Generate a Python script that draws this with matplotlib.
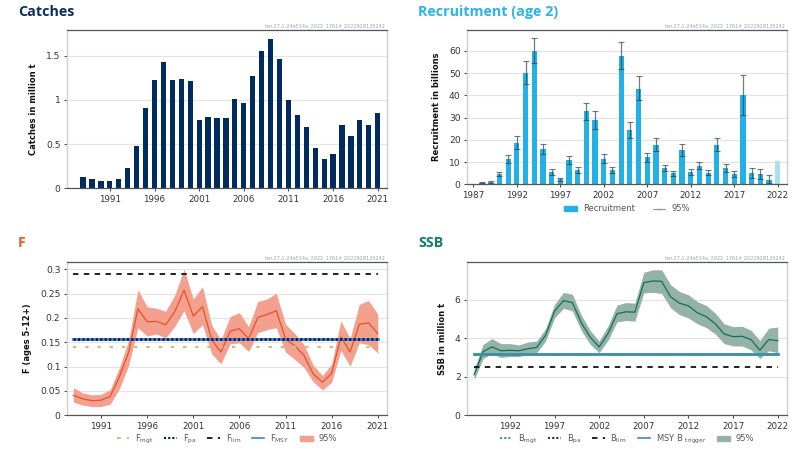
import matplotlib
matplotlib.use('Agg')
import matplotlib.pyplot as plt
from matplotlib.lines import Line2D
from matplotlib.patches import Patch
import numpy as np

plt.rcParams['font.family'] = ['DejaVu Sans']
plt.rcParams['mathtext.default'] = 'regular'

W, H = 803, 454
stamp = 'her.27.1-24a514a_2022_17614_2022928135242'

catch_years = np.arange(1988, 2022)
catches = [.13, .105, .085, .085, .105, .23, .48, .91, 1.22, 1.43, 1.225, 1.24, 1.21, .77, .81, .79, .795,
           1.005, .97, 1.27, 1.55, 1.69, 1.46, .995, .825, .69, .46, .33, .385, .72, .595, .775, .72, .85]

rec_years = np.arange(1988, 2023)
recruitment = [.8, 1.2, 4.5, 11.5, 18.5, 50, 60, 15.8, 5.6, 2.2, 10.8, 6.3, 32.8, 28.8, 11.3, 6.6, 57.7, 24.5,
               43, 12.2, 17.8, 7.2, 5, 15.3, 5.6, 8.2, 5.2, 17.7, 7.2, 4.5, 40, 5.1, 4.6, 1.8, 10.6]
rec_hi = [1.2, 1.7, 5.4, 13.4, 21.5, 55.4, 65.8, 18.2, 7, 3, 12.7, 7.9, 36.5, 32.8, 13.5, 8, 63.8, 27.9,
          48.5, 14.3, 20.6, 8.5, 6.2, 18, 7, 9.9, 6.6, 21, 9.3, 5.8, 49, 7.4, 6.7, 4]
rec_lo = [.4, .8, 3.6, 9.7, 15.8, 45, 54.5, 13.5, 4.4, 1.5, 9, 5, 28.8, 25, 9.4, 5, 51.7, 21,
          38, 10, 14.8, 5.8, 3.8, 12.8, 4.4, 6.8, 4, 14.8, 5.4, 3.2, 31, 2.9, 2.6, .5]

f_years = np.arange(1988, 2022)
f_val = [.041, .034, .030, .031, .039, .08, .13, .219, .192, .193, .186, .213, .257, .204, .223, .155, .130,
         .173, .178, .157, .201, .207, .215, .157, .143, .123, .085, .068, .086, .161, .130, .187, .190, .168]
f_hi = [.057, .046, .042, .043, .053, .098, .155, .258, .223, .220, .214, .247, .3, .239, .264, .185, .155,
        .203, .211, .182, .234, .239, .251, .187, .168, .145, .103, .082, .105, .194, .158, .228, .236, .208]
f_lo = [.027, .021, .018, .018, .023, .055, .103, .18, .163, .167, .159, .183, .215, .168, .186, .126, .106,
        .147, .149, .131, .170, .176, .18, .130, .115, .098, .069, .052, .068, .133, .101, .149, .145, .128]
f_mgt, f_pa, f_lim, f_msy = .14, .157, .291, .157

ssb_years = np.arange(1988, 2023)
ssb_val = [2.1, 3.3, 3.55, 3.35, 3.37, 3.35, 3.45, 3.52, 4.15, 5.4, 5.95, 5.85, 4.8, 4.05, 3.55, 4.25, 5.27, 5.37,
           5.35, 6.88, 6.97, 6.95, 6.15, 5.82, 5.68, 5.32, 5.12, 4.75, 4.22, 4.08, 4.1, 3.93, 3.38, 3.93, 3.87]
ssb_hi = [2.4, 3.68, 3.98, 3.72, 3.72, 3.65, 3.8, 3.85, 4.5, 5.75, 6.38, 6.28, 5.2, 4.4, 3.85, 4.65, 5.72, 5.85,
          5.82, 7.42, 7.55, 7.55, 6.78, 6.42, 6.25, 5.9, 5.7, 5.3, 4.75, 4.6, 4.62, 4.42, 3.88, 4.52, 4.58]
ssb_lo = [1.85, 2.95, 3.2, 3.0, 3.05, 3.05, 3.15, 3.25, 3.85, 5.05, 5.55, 5.42, 4.4, 3.68, 3.25, 3.9, 4.85, 4.92,
          4.88, 6.35, 6.38, 6.32, 5.58, 5.22, 5.05, 4.75, 4.55, 4.22, 3.72, 3.6, 3.6, 3.4, 2.95, 3.35, 3.25]
b_mgt, b_pa, b_lim, msy_btrigger = 3.17, 3.17, 2.5, 3.17


def panel(left, top, right, bottom, xlim, ylim, xticks, yticks, ylabels, ylabel, title, color, title_y):
    ax = fig.add_axes([left / W, 1 - bottom / H, (right - left) / W, (bottom - top) / H])
    ax.set_xlim(xlim)
    ax.set_ylim(ylim)
    ax.set_xticks(xticks)
    ax.set_yticks(yticks)
    ax.set_yticklabels(ylabels)
    ax.grid(axis='y', color='#e4e4e4', lw=0.9)
    ax.set_axisbelow(True)
    ax.tick_params(axis='x', length=2.5, width=0.7, pad=2, labelsize=6.3, color='#444444', labelcolor='#333333')
    ax.tick_params(axis='y', length=2.5, width=0.7, pad=2, labelsize=6.6, color='#444444', labelcolor='#333333')
    for s in ['top', 'bottom']:
        ax.spines[s].set_color('#555555')
        ax.spines[s].set_linewidth(0.9)
    for s in ['left', 'right']:
        ax.spines[s].set_color('#cfcfcf')
        ax.spines[s].set_linewidth(1.0)
    ax.set_ylabel(ylabel, fontsize=6, fontweight='bold', color='#111111', labelpad=6)
    fig.text((left - 49) / W, 1 - title_y / H, title, fontsize=10.3, fontweight='bold', color=color,
             family='Open Sans', va='center')
    fig.text((right - 2) / W, 1 - (top - 4) / H, stamp, fontsize=3.6, color='#9aa5b5', ha='right', va='center')
    return ax


def legend(ax, handles, labels, y, spacing=1.6):
    ax.legend(handles, labels, loc='center', bbox_to_anchor=(0.5, y), ncols=len(labels), frameon=False,
              fontsize=6, labelcolor='#555555', handlelength=1.5, columnspacing=spacing, handletextpad=0.7)


fig = plt.figure(figsize=(W / 100, H / 100), dpi=100)

ax = panel(67, 30, 387, 188.3, (1986.2, 2022.04), (0, 1.79), range(1991, 2022, 5), [0, .5, 1, 1.5],
           ['0', '0.5', '1', '1.5'], 'Catches in million t', 'Catches', '#0b2f5e', 12)
ax.bar(catch_years, catches, width=0.58, color='#002b5e')

ax = panel(467, 30, 787, 184.3, (1986.27, 2023.07), (0, 69.4), range(1987, 2023, 5), range(0, 61, 10),
           [str(v) for v in range(0, 61, 10)], 'Recruitment in billions', 'Recruitment (age 2)', '#29b5e8', 12)
ax.bar(rec_years[:-1], recruitment[:-1], width=0.6, color='#22b0e6')
ax.bar(rec_years[-1], recruitment[-1], width=0.6, color='#a5e0f7')
ax.errorbar(rec_years[:-1], recruitment[:-1],
            yerr=[np.array(recruitment[:-1]) - np.array(rec_lo), np.array(rec_hi) - np.array(recruitment[:-1])],
            fmt='none', ecolor='#2f4448', alpha=0.7, elinewidth=0.9, capsize=2, capthick=0.8)
legend(ax, [Patch(color='#22b0e6'), Line2D([], [], color='#999999', lw=0.8, marker='_', ms=4)],
       ['Recruitment', '95%'], -0.16, 2.2)

ax = panel(66.7, 261.7, 387, 415.3, (1987.28, 2022.0), (0, .3156), range(1991, 2022, 5),
           [0, .05, .1, .15, .2, .25, .3], ['0', '0.05', '0.1', '0.15', '0.2', '0.25', '0.3'],
           'F (ages 5-12+)', 'F', '#f15a22', 243)
ax.fill_between(f_years, f_lo, f_hi, color='#f4a08e', lw=0)
ax.plot(f_years, f_val, color='#e8502a', lw=0.9)
ax.plot(f_years, [f_mgt] * len(f_years), color='#c9c26e', lw=1.6, ls=(0, (1.5, 4)))
ax.plot(f_years, [f_msy] * len(f_years), color='#3f7fe0', lw=2)
ax.plot(f_years, [f_pa] * len(f_years), color='#0b1f3a', lw=2, ls=(0, (0.8, 0.8)))
ax.plot(f_years, [f_lim] * len(f_years), color='#111111', lw=1.3, ls=(0, (3, 3)))
legend(ax, [Line2D([], [], color='#c9c26e', lw=1.4, ls=(0, (2, 3))),
            Line2D([], [], color='#0b1f3a', lw=1.5, ls=(0, (1, 1))),
            Line2D([], [], color='#111111', lw=1.3, ls=(0, (3, 3))),
            Line2D([], [], color='#3f7fe0', lw=1.2),
            Patch(color='#f4a08e')],
       ['F$_{mgt}$', 'F$_{pa}$', 'F$_{lim}$', 'F$_{MSY}$', '95%'], -0.155, 1.3)

ax = panel(467, 261.7, 787, 415.3, (1987.2, 2023.04), (0, 7.97), range(1992, 2023, 5), [0, 2, 4, 6],
           ['0', '2', '4', '6'], 'SSB in million t', 'SSB', '#0b7d6b', 243)
ax.fill_between(ssb_years, ssb_lo, ssb_hi, color='#94b3a6', lw=0)
ax.plot(ssb_years, ssb_val, color='#0f6e60', lw=0.9)
ax.plot(ssb_years, [msy_btrigger] * len(ssb_years), color='#3f7fe0', lw=2)
ax.plot(ssb_years, [b_mgt] * len(ssb_years), color='#3da35d', lw=2, ls=(0, (0.8, 0.8)))
ax.plot(ssb_years, [b_lim] * len(ssb_years), color='#111111', lw=1.3, ls=(0, (3, 3)))
legend(ax, [Line2D([], [], color='#3da35d', lw=1.5, ls=(0, (1, 1))),
            Line2D([], [], color='#333333', lw=1.5, ls=(0, (1, 1))),
            Line2D([], [], color='#111111', lw=1.3, ls=(0, (3, 3))),
            Line2D([], [], color='#3f7fe0', lw=1.2),
            Patch(color='#94b3a6')],
       ['B$_{mgt}$', 'B$_{pa}$', 'B$_{lim}$', 'MSY B $_{trigger}$', '95%'], -0.155, 1.3)

fig.savefig('out.png', dpi=100)
